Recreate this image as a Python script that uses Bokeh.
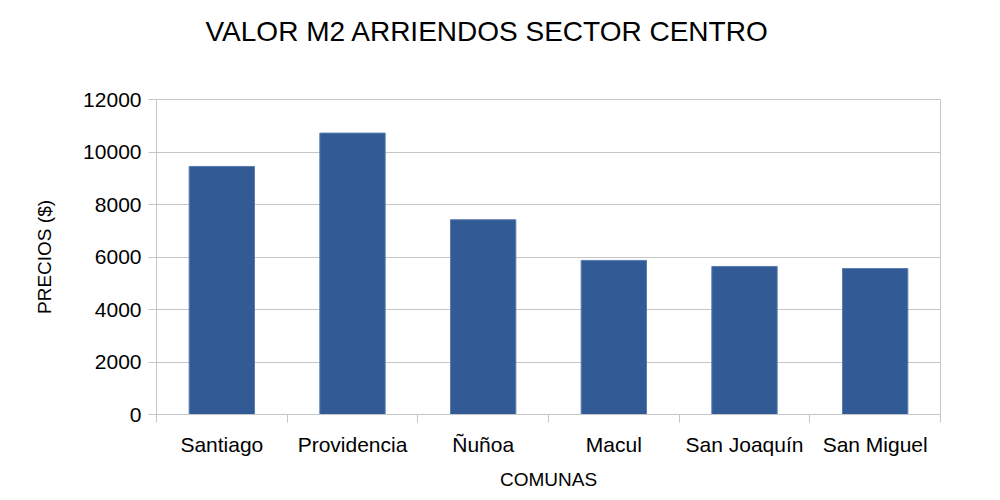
from bokeh.plotting import figure
from bokeh.models import Range1d, FixedTicker, ColumnDataSource, Title
from bokeh.embed import file_html
from bokeh.resources import INLINE

titulo = "VALOR M2 ARRIENDOS SECTOR CENTRO"
comunas = ["Santiago", "Providencia", "Ñuñoa", "Macul", "San Joaquín", "San Miguel"]
precios = [9450, 10720, 7420, 5870, 5640, 5560]
y_ticks = [0, 2000, 4000, 6000, 8000, 10000, 12000]

FONT = "Liberation Sans"
GRID = "#c6c6c6"

xs = [i + 0.5 for i in range(len(comunas))]
src = ColumnDataSource(dict(x=xs, top=precios, name=comunas))

p = figure(width=1000, height=500, output_backend="svg", toolbar_location=None,
           x_range=Range1d(0, len(comunas)), y_range=Range1d(0, 12000),
           min_border_left=156, min_border_right=60, min_border_top=99, min_border_bottom=86)

p.vbar(x="x", top="top", width=0.5, source=src, fill_color="#325a94",
       line_color="#5a7db0", line_width=1)

# spacer panel between title and frame
p.add_layout(Title(text=" ", text_font_size="32px"), "above")
p.add_layout(Title(text=titulo, text_font=FONT, text_font_size="28px",
                   text_font_style="normal", text_color="#000000",
                   align="left", offset=49), "above")

# x axis
p.xaxis.ticker = FixedTicker(ticks=xs, minor_ticks=list(range(len(comunas) + 1)))
p.xaxis.major_label_overrides = {x: c for x, c in zip(xs, comunas)}
p.xaxis.major_tick_out = 0
p.xaxis.major_tick_in = 0
p.xaxis.minor_tick_out = 8
p.xaxis.minor_tick_in = 0
p.xaxis.minor_tick_line_color = GRID
p.xaxis.axis_label = "COMUNAS"

# y axis
p.yaxis.ticker = FixedTicker(ticks=y_ticks)
p.yaxis.major_tick_out = 8
p.yaxis.major_tick_in = 0
p.yaxis.minor_tick_line_color = None
p.yaxis.major_tick_line_color = GRID
p.yaxis.axis_label = "PRECIOS ($)"

for ax in (p.xaxis, p.yaxis):
    ax.axis_line_color = GRID
    ax.major_label_text_font = FONT
    ax.major_label_text_font_size = "21px"
    ax.major_label_text_color = "#000000"
    ax.axis_label_text_font = FONT
    ax.axis_label_text_font_size = "19px"
    ax.axis_label_text_font_style = "normal"
    ax.axis_label_text_color = "#000000"

p.xaxis.major_label_standoff = 10
p.xaxis.axis_label_standoff = 10
p.yaxis.major_label_standoff = 7
p.yaxis.axis_label_standoff = 25

p.xgrid.grid_line_color = None
p.ygrid.grid_line_color = GRID
p.ygrid.grid_line_width = 1
p.outline_line_color = GRID
p.background_fill_color = "white"
p.border_fill_color = "white"

open("out.html", "w").write(file_html(p, INLINE))
